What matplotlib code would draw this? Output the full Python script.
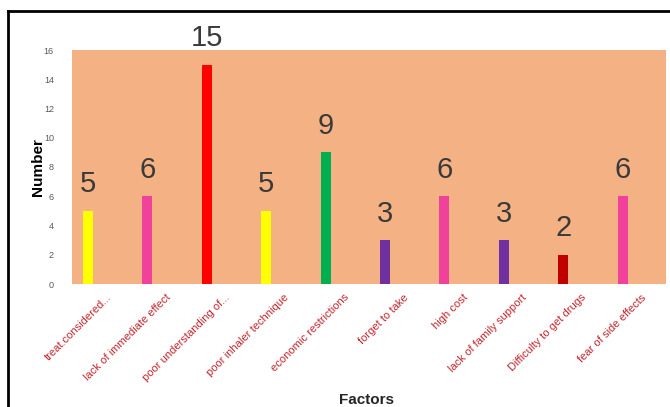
import numpy as np
import matplotlib.pyplot as plt
from matplotlib.lines import Line2D

factors = ["treat.considered...", "lack of immediate effect", "poor understanding of...",
           "poor inhaler technique", "economic restrictions", "forget to take", "high cost",
           "lack of family support", "Difficulty to get drugs", "fear of side effects"]
counts = [5, 6, 15, 5, 9, 3, 6, 3, 2, 6]
bar_colors = ["#FFFF00", "#F0429A", "#FF0000", "#FFFF00", "#00B050",
              "#7030A0", "#F0429A", "#7030A0", "#C00000", "#F0429A"]
yticks = [0, 2, 4, 6, 8, 10, 12, 14, 16]


def main():
    plt.rcParams['font.family'] = ['Liberation Sans', 'DejaVu Sans']
    fig = plt.figure(figsize=(6.7, 4.07), dpi=100)
    ax = fig.add_axes([72 / 670, 1 - 284 / 407, 594 / 670, 234 / 407])
    ax.set_facecolor("#F4B183")

    x = np.arange(len(counts))
    bars = ax.bar(x - 0.23, counts, width=0.17, color=bar_colors, zorder=2)
    for b, v in zip(bars, counts):
        ax.annotate(str(v), (b.get_x() + b.get_width() / 2, v), xytext=(0, 9),
                    textcoords="offset points", ha="center", va="bottom",
                    fontsize=21, color="#3A3A3A", annotation_clip=False)

    ax.set_xlim(-0.5, len(counts) - 0.5)
    ax.set_ylim(0, 16)
    ax.set_yticks(yticks)
    ax.set_yticklabels([str(t) for t in yticks], fontsize=6.5, color="#595959")
    ax.tick_params(axis="y", length=0, pad=13)
    ax.set_xticks(x + 0.07)
    ax.set_xticklabels(factors, rotation=45, ha="right", va="top",
                       rotation_mode="anchor", fontsize=8, color="#C0262D")
    ax.tick_params(axis="x", length=0, pad=6)
    for s in ax.spines.values():
        s.set_visible(False)

    ax.set_ylabel("Number", fontsize=11, fontweight="bold")
    ax.yaxis.set_label_coords(-0.045, 0.5)
    ax.set_xlabel("Factors", fontsize=11, fontweight="bold", color="#262626")
    ax.xaxis.set_label_coords(0.495, -0.465)

    # frame lines (top and left)
    fig.add_artist(Line2D([8 / 670, 1.0], [1 - 11 / 407, 1 - 11 / 407],
                          transform=fig.transFigure, color="black", lw=2))
    fig.add_artist(Line2D([8 / 670, 8 / 670], [0, 1 - 11 / 407],
                          transform=fig.transFigure, color="black", lw=2))

    fig.savefig("out.png", dpi=100)


if __name__ == "__main__":
    main()
